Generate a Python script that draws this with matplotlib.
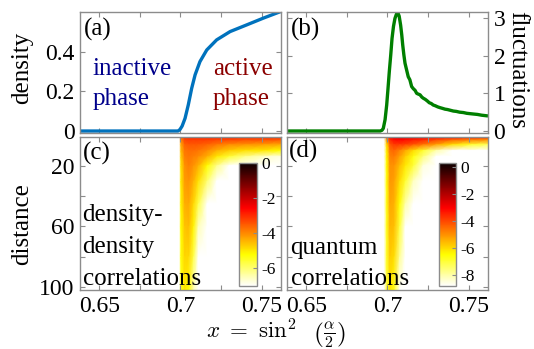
import numpy as np
import matplotlib
matplotlib.use("Agg")
import matplotlib.pyplot as plt

plt.rcParams['font.family'] = ['Liberation Serif', 'DejaVu Serif']
plt.rcParams['mathtext.fontset'] = 'cm'
plt.rcParams['axes.unicode_minus'] = False

# ---------------- data ----------------
# (a) density vs x
dens_x = [0.638, 0.690, 0.6985, 0.6997, 0.7010, 0.7028, 0.7048, 0.7069, 0.7090,
          0.7120, 0.7162, 0.7223, 0.7306, 0.7409, 0.7511, 0.7620]
dens_y = [0.0, 0.0, 0.0, 0.008, 0.025, 0.064, 0.132, 0.216, 0.284,
          0.351, 0.410, 0.461, 0.503, 0.537, 0.571, 0.605]

# (b) fluctuations vs x
fluc_x = [0.638, 0.690, 0.6955, 0.6966, 0.6974, 0.6985, 0.6995, 0.7003, 0.7011,
          0.7020, 0.7028, 0.7037, 0.7046, 0.7055, 0.7063, 0.7072, 0.7081, 0.7088,
          0.7094, 0.7101, 0.7108, 0.7118, 0.7128, 0.7138, 0.7149, 0.7160, 0.7170,
          0.7180, 0.7190, 0.7201, 0.7212, 0.7221, 0.7233, 0.7245, 0.7258, 0.7270,
          0.7282, 0.7295, 0.7310, 0.7324, 0.7340, 0.7355, 0.7370, 0.7388, 0.7406,
          0.7425, 0.7445, 0.7468, 0.7489, 0.7510, 0.7532, 0.7555, 0.7580, 0.7600,
          0.7620]
fluc_y = [0.0, 0.0, 0.0, 0.02, 0.07, 0.30, 0.69, 1.12, 1.57,
          2.02, 2.46, 2.78, 2.99, 3.10, 3.15, 3.05, 2.81, 2.55,
          2.28, 2.02, 1.80, 1.62, 1.44, 1.36, 1.18, 1.12, 1.08,
          1.00, 0.98, 0.96, 0.90, 0.87, 0.84, 0.80, 0.75, 0.73,
          0.69, 0.67, 0.64, 0.62, 0.60, 0.58, 0.57, 0.55, 0.53,
          0.52, 0.50, 0.49, 0.47, 0.46, 0.45, 0.44, 0.42, 0.41,
          0.40]

# log10 correlations on a (distance x x) grid: rows = distance, columns = x
corr_d = [1, 3, 6, 10, 14, 20, 30, 45, 60, 80, 102]

# (c) density-density correlations
dd_x = [0.638, 0.6993, 0.7003, 0.7025, 0.705, 0.708, 0.711, 0.7165, 0.7225,
        0.730, 0.740, 0.752, 0.762]
dd_vals = [
    [-9, -9, -3.6, -3.0, -2.9, -2.9, -2.9, -2.9, -2.9, -2.9, -3.0, -3.0, -3.0],
    [-9, -9, -4.0, -3.3, -3.2, -3.2, -3.2, -3.2, -3.3, -3.3, -3.4, -3.4, -3.5],
    [-9, -9, -4.3, -3.6, -3.5, -3.5, -3.5, -3.6, -3.8, -4.0, -4.1, -4.2, -4.3],
    [-9, -9, -4.5, -3.8, -3.7, -3.7, -3.8, -4.0, -4.4, -4.7, -4.9, -5.0, -5.2],
    [-9, -9, -4.7, -3.9, -3.8, -3.9, -4.0, -4.4, -5.0, -5.6, -6.2, -6.6, -6.8],
    [-9, -9, -4.9, -4.1, -3.9, -4.1, -4.4, -5.2, -6.2, -7.0, -7.8, -8.2, -8.5],
    [-9, -9, -5.0, -4.2, -4.1, -4.4, -4.9, -6.0, -7.6, -9.0, -9.0, -9.0, -9.0],
    [-9, -9, -5.1, -4.4, -4.3, -4.8, -5.7, -7.5, -9.0, -9.0, -9.0, -9.0, -9.0],
    [-9, -9, -5.2, -4.6, -4.5, -5.1, -6.5, -9.0, -9.0, -9.0, -9.0, -9.0, -9.0],
    [-9, -9, -5.3, -4.8, -4.8, -5.7, -7.6, -9.0, -9.0, -9.0, -9.0, -9.0, -9.0],
    [-9, -9, -5.4, -5.0, -5.2, -6.5, -9.0, -9.0, -9.0, -9.0, -9.0, -9.0, -9.0],
]

# (d) quantum correlations
qc_x = [0.638, 0.6978, 0.6995, 0.7015, 0.704, 0.7075, 0.711, 0.716, 0.722,
        0.730, 0.740, 0.752, 0.762]
qc_vals = [
    [-12, -12, -4.5, -3.0, -2.6, -2.5, -2.6, -2.7, -2.9, -3.1, -3.3, -3.5, -3.6],
    [-12, -12, -5.3, -3.6, -3.2, -3.1, -3.2, -3.4, -3.6, -4.0, -4.4, -4.8, -5.0],
    [-12, -12, -6.0, -4.2, -3.8, -3.8, -3.9, -4.2, -4.6, -5.2, -6.0, -6.9, -7.3],
    [-12, -12, -6.3, -4.6, -4.4, -4.8, -5.3, -6.0, -6.9, -8.0, -9.2, -10.0, -10.5],
    [-12, -12, -6.4, -4.8, -4.7, -5.2, -5.8, -6.6, -7.6, -9.5, -12, -12, -12],
    [-12, -12, -6.5, -5.0, -5.0, -5.6, -6.2, -7.0, -8.5, -12, -12, -12, -12],
    [-12, -12, -6.6, -5.1, -5.2, -6.0, -6.9, -8.2, -12, -12, -12, -12, -12],
    [-12, -12, -6.7, -5.3, -5.4, -6.5, -8.0, -10.5, -12, -12, -12, -12, -12],
    [-12, -12, -6.8, -5.5, -5.6, -7.0, -9.2, -12, -12, -12, -12, -12, -12],
    [-12, -12, -6.9, -5.8, -6.0, -7.8, -11, -12, -12, -12, -12, -12, -12],
    [-12, -12, -7.0, -6.2, -6.6, -9.0, -12, -12, -12, -12, -12, -12, -12],
]

x_major = [0.65, 0.7, 0.75]
x_major_labels = ["0.65", "0.7", "0.75"]
x_minor = [0.675, 0.725]
dens_ticks = [0, 0.2, 0.4]
dens_tick_labels = ["0", "0.2", "0.4"]
fluc_ticks = [0, 1, 2, 3]
fluc_tick_labels = ["0", "1", "2", "3"]
dist_major = [20, 60, 100]
dist_minor = [40, 80]
cb_c_ticks = [0, -2, -4, -6]
cb_d_ticks = [0, -2, -4, -6, -8]

# ---------------- layout ----------------
W, H = 534, 349
fig = plt.figure(figsize=(W / 100, H / 100), dpi=100)


def rect(l, t, r, b):
    return [l / W, 1 - b / H, (r - l) / W, (b - t) / H]


def fx(x):
    return x / W


def fy(y):
    return 1 - y / H


SP = '#8c8c8c'
TICK_FS = 17
TXT_FS = 18

ax_a = fig.add_axes(rect(80, 12, 281, 133))
ax_b = fig.add_axes(rect(287, 12, 488, 133))
ax_c = fig.add_axes(rect(80, 137, 281, 290))
ax_d = fig.add_axes(rect(287, 137, 488, 290))

XLIM = (0.638, 0.762)

for ax in (ax_a, ax_b, ax_c, ax_d):
    ax.set_xlim(*XLIM)
    ax.set_xticks(x_major)
    ax.set_xticks(x_minor, minor=True)
    for s in ax.spines.values():
        s.set_color(SP)
        s.set_linewidth(1.0)
    ax.tick_params(which='both', direction='in', length=3.5, width=0.8,
                   color=SP, top=True, right=True, labelsize=TICK_FS, pad=4)

# (a)
ax_a.plot(dens_x, dens_y, color='#0072BD', lw=2.4, solid_capstyle='butt')
ax_a.set_ylim(-0.01, 0.602)
ax_a.set_yticks(dens_ticks)
ax_a.set_yticklabels(dens_tick_labels)
ax_a.tick_params(labelbottom=False)

# (b)
ax_b.plot(fluc_x, fluc_y, color='#007F00', lw=2.4, solid_capstyle='butt')
ax_b.set_ylim(-0.053, 3.16)
ax_b.set_yticks(fluc_ticks)
ax_b.set_yticklabels(fluc_tick_labels)
ax_b.tick_params(labelbottom=False, labelleft=False, labelright=True)

# (c)
Xc, Yc = np.meshgrid(dd_x, corr_d)
mc = ax_c.pcolormesh(Xc, Yc, np.array(dd_vals), shading='gouraud',
                     cmap='hot_r', vmin=-7, vmax=0, rasterized=True)
# (d)
Xd, Yd = np.meshgrid(qc_x, corr_d)
md = ax_d.pcolormesh(Xd, Yd, np.array(qc_vals), shading='gouraud',
                     cmap='hot_r', vmin=-8.8, vmax=0.3, rasterized=True)

for ax in (ax_c, ax_d):
    ax.set_ylim(102, 1)
    ax.set_yticks(dist_major)
    ax.set_yticks(dist_minor, minor=True)
    ax.set_xticklabels(x_major_labels)
ax_d.tick_params(labelleft=False)
ax_c.set_yticklabels([str(v) for v in dist_major])

# colorbars
cax_c = fig.add_axes(rect(239, 163, 257, 286))
cb_c = fig.colorbar(mc, cax=cax_c)
cb_c.set_ticks(cb_c_ticks)
cb_c.set_ticklabels([str(v) for v in cb_c_ticks])
cax_d = fig.add_axes(rect(439, 163, 456, 286))
cb_d = fig.colorbar(md, cax=cax_d)
cb_d.set_ticks(cb_d_ticks)
cb_d.set_ticklabels([str(v) for v in cb_d_ticks])
for cb in (cb_c, cb_d):
    cb.outline.set_edgecolor(SP)
    cb.outline.set_linewidth(1.0)
    cb.ax.tick_params(direction='in', length=3, width=0.8, color=SP,
                      labelsize=12.5, pad=3)
    cb.ax.minorticks_off()

# panel labels and texts
fig.text(fx(84), fy(36), "(a)", fontsize=TXT_FS, va='baseline')
fig.text(fx(290.5), fy(36), "(b)", fontsize=TXT_FS, va='baseline')
fig.text(fx(83), fy(160), "(c)", fontsize=TXT_FS, va='baseline')
fig.text(fx(289), fy(158), "(d)", fontsize=TXT_FS, va='baseline')

navy = '#00008B'
dred = '#8B0000'
fig.text(fx(92.5), fy(75), "inactive", fontsize=TXT_FS, color=navy, va='baseline')
fig.text(fx(92.5), fy(105), "phase", fontsize=TXT_FS, color=navy, va='baseline')
fig.text(fx(213), fy(75), "active", fontsize=TXT_FS, color=dred, va='baseline')
fig.text(fx(213), fy(105), "phase", fontsize=TXT_FS, color=dred, va='baseline')

fig.text(fx(82.5), fy(221), "density-", fontsize=TXT_FS, va='baseline')
fig.text(fx(82.5), fy(253), "density", fontsize=TXT_FS, va='baseline')
fig.text(fx(82.5), fy(285), "correlations", fontsize=TXT_FS, va='baseline')
fig.text(fx(290.5), fy(254), "quantum", fontsize=TXT_FS, va='baseline')
fig.text(fx(290.5), fy(285), "correlations", fontsize=TXT_FS, va='baseline')

# axis labels
fig.text(fx(22), fy(68), "density", fontsize=TXT_FS, rotation=90,
         ha='center', va='center')
fig.text(fx(22), fy(224), "distance", fontsize=TXT_FS, rotation=90,
         ha='center', va='center')
fig.text(fx(517), fy(70), "fluctuations", fontsize=TXT_FS, rotation=270,
         ha='center', va='center')
fig.text(fx(276), fy(338), r"$x\ =\ \sin^2\ \ \left(\frac{\alpha}{2}\right)$",
         fontsize=16.5, ha='center', va='baseline')

fig.savefig("out.png", dpi=100)
